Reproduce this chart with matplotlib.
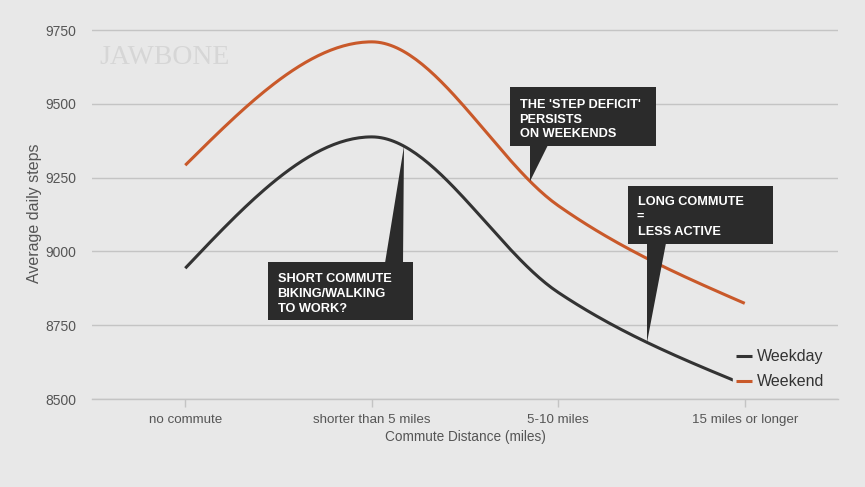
import numpy as np
import matplotlib
matplotlib.use("Agg")
import matplotlib.pyplot as plt
from matplotlib.patches import Polygon, Rectangle

categories = ["no commute", "shorter than 5 miles", "5-10 miles", "15 miles or longer"]
weekday = [8943, 9388, 8861, 8548]
weekend = [9292, 9710, 9155, 8824]
yticks = [8500, 8750, 9000, 9250, 9500, 9750]

BG = "#e8e8e8"
DARK = "#333333"
ORANGE = "#c9592a"
GRID = "#c4c4c4"
TXT = "#555555"

plt.rcParams['font.family'] = ['Liberation Sans', 'DejaVu Sans']


def monotone_x(xs, ys, n=60):
    xs = np.asarray(xs, float)
    ys = np.asarray(ys, float)
    m = len(xs)
    h = np.diff(xs)
    s = np.diff(ys) / h
    t = np.zeros(m)
    for i in range(1, m - 1):
        h0, h1 = h[i - 1], h[i]
        s0, s1 = s[i - 1], s[i]
        p = (s0 * h1 + s1 * h0) / (h0 + h1)
        t[i] = (np.sign(s0) + np.sign(s1)) * min(abs(s0), abs(s1), 0.5 * abs(p))
    t[0] = (3 * s[0] - t[1]) / 2
    t[-1] = (3 * s[-1] - t[-2]) / 2
    X, Y = [], []
    for i in range(m - 1):
        u = np.linspace(0, 1, n)
        x0, x1 = xs[i], xs[i + 1]
        dx = x1 - x0
        p0 = (x0, ys[i])
        p1 = (x0 + dx / 3, ys[i] + t[i] * dx / 3)
        p2 = (x1 - dx / 3, ys[i + 1] - t[i + 1] * dx / 3)
        p3 = (x1, ys[i + 1])
        bx = (1-u)**3*p0[0] + 3*(1-u)**2*u*p1[0] + 3*(1-u)*u**2*p2[0] + u**3*p3[0]
        by = (1-u)**3*p0[1] + 3*(1-u)**2*u*p1[1] + 3*(1-u)*u**2*p2[1] + u**3*p3[1]
        if i > 0:
            bx, by = bx[1:], by[1:]
        X.append(bx)
        Y.append(by)
    return np.concatenate(X), np.concatenate(Y)


W, H = 865, 487
fig = plt.figure(figsize=(W / 100, H / 100), dpi=100, facecolor=BG)
ax = fig.add_axes([92 / W, 1 - 399 / H, (838 - 92) / W, (399 - 27.1) / H])
ax.set_facecolor(BG)
ax.set_xlim(-0.5, 3.5)
ax.set_ylim(8500, 9760)

xpos = np.arange(len(categories))
wx, wy = monotone_x(xpos, weekday)
ex, ey = monotone_x(xpos, weekend)

ax.set_yticks(yticks)
ax.set_yticklabels([str(v) for v in yticks])
ax.yaxis.grid(True, color=GRID, linewidth=1.0)
ax.set_axisbelow(True)
ax.tick_params(axis='y', length=0, pad=11, labelsize=10, labelcolor=TXT)
ax.set_xticks(xpos)
ax.set_xticklabels(categories)
ax.tick_params(axis='x', length=6, width=1, color=GRID, pad=4.5, labelsize=9.6, labelcolor=TXT)
for side in ["top", "right", "left"]:
    ax.spines[side].set_visible(False)
ax.spines["bottom"].set_color(GRID)
ax.spines["bottom"].set_linewidth(1.0)

ax.set_xlabel("Commute Distance (miles)", fontsize=9.8, color=TXT, labelpad=3)
ax.set_ylabel("Average daily steps", fontsize=11.5, color=TXT, labelpad=3)

l1, = ax.plot(wx, wy, color=DARK, linewidth=2.2, solid_capstyle='butt', label="Weekday", zorder=3)
l2, = ax.plot(ex, ey, color=ORANGE, linewidth=2.2, solid_capstyle='butt', label="Weekend", zorder=3)

leg = ax.legend(handles=[l1, l2], loc="lower right", bbox_to_anchor=(0.993, 0.005),
                frameon=True, facecolor=BG, edgecolor=BG, framealpha=1.0,
                fontsize=11.5, handlelength=1.0, handletextpad=0.35,
                labelspacing=0.62, borderpad=0.2, borderaxespad=0.3)
for t in leg.get_texts():
    t.set_color(DARK)
leg.set_zorder(5)

fig.text(99 / W, 1 - 58 / H, "JAWBONE", fontsize=20, color="#d6d6d6",
         family="Liberation Serif", va="center", ha="left")

# helpers for callout layout (pixel -> data)
def p2d(px, py):
    xd = -0.5 + (px - 92) / (838 - 92) * 4.0
    yd = 8500 + (399 - py) / (399 - 27.1) * (9760 - 8500)
    return xd, yd


def curve_at(xs, ys, xq):
    return float(np.interp(xq, xs, ys))


def callout(box, base, tip_x, curve, lines, text_left, first_mid, step, indents):
    x0, y0 = p2d(box[0], box[3])
    x1, y1 = p2d(box[2], box[1])
    ax.add_patch(Rectangle((x0, y0), x1 - x0, y1 - y0, facecolor="#2b2b2b",
                           edgecolor="none", zorder=6, clip_on=False))
    b1 = p2d(*base[0])
    b2 = p2d(*base[1])
    txd = p2d(tip_x, 0)[0]
    tip = (txd, curve_at(curve[0], curve[1], txd))
    ax.add_patch(Polygon([b1, b2, tip], closed=True, facecolor="#2b2b2b",
                         edgecolor="none", zorder=6, clip_on=False))
    for k, line in enumerate(lines):
        tx, ty = p2d(text_left + indents[k], first_mid + k * step)
        ax.text(tx, ty, line, color="white", fontsize=9.2, fontweight="bold",
                ha="left", va="center_baseline", zorder=7)


callout((510, 87, 656, 146), [(530, 145), (548, 145)], 530, (ex, ey),
        ["THE 'STEP DEFICIT'", "PERSISTS", "ON WEEKENDS"], 520, 103.5, 14.7, [0, -0.5, 0])
callout((628, 186, 773, 244), [(647, 243), (666, 243)], 647, (wx, wy),
        ["LONG COMMUTE", "=", "LESS ACTIVE"], 638, 200.5, 15.2, [0, -1.5, 0])
callout((268, 262, 413, 320), [(385, 263), (403, 263)], 404, (wx, wy),
        ["SHORT COMMUTE", "BIKING/WALKING", "TO WORK?"], 278, 277.5, 14.8, [0, -0.5, 0])

fig.savefig("out.png", dpi=100, facecolor=BG)
